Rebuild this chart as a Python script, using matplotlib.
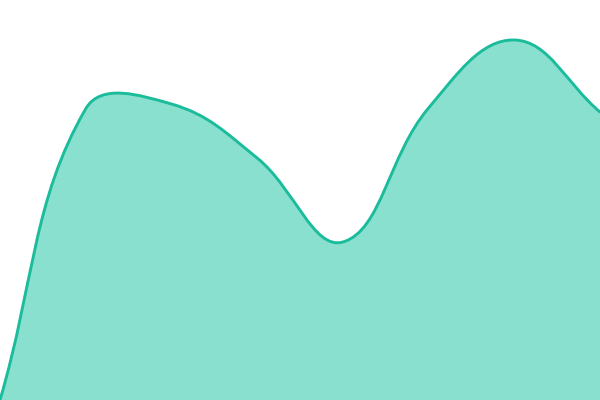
import numpy as np
import matplotlib
matplotlib.use("Agg")
import matplotlib.pyplot as plt
from matplotlib.path import Path
from matplotlib.patches import PathPatch

# data
labels = ["1", "2", "3", "4", "5", "6", "7", "8"]
values = [0, 72.8, 74, 60.5, 39.5, 73, 90, 72]

line_color = "#1abc9c"
fill_color = "#8ae0cf"
tension = 0.4


def spline_controls(pts, t):
    # chart.js style bezier control points, computed in pixel space
    n = len(pts)
    cps = []
    for i in range(n):
        prev = pts[max(i - 1, 0)]
        cur = pts[i]
        nxt = pts[min(i + 1, n - 1)]
        d01 = np.hypot(*(cur - prev))
        d12 = np.hypot(*(nxt - cur))
        tot = d01 + d12
        s01 = d01 / tot if tot else 0
        s12 = d12 / tot if tot else 0
        before = cur - t * s01 * (nxt - prev)
        after = cur + t * s12 * (nxt - prev)
        cps.append((before, after))
    return cps


fig = plt.figure(figsize=(6, 4), dpi=100)
ax = fig.add_axes([0, 0, 1, 1])
ax.set_xlim(0, len(values) - 1)
ax.set_ylim(0, 100)
ax.axis("off")

x = np.arange(len(values))
disp = ax.transData.transform(np.column_stack([x, values]))
cps = spline_controls(disp, tension)

verts = [disp[0]]
codes = [Path.MOVETO]
for i in range(len(disp) - 1):
    verts += [cps[i][1], cps[i + 1][0], disp[i + 1]]
    codes += [Path.CURVE4] * 3
verts = ax.transData.inverted().transform(np.array(verts))

line_path = Path(verts, codes)
fill_verts = np.vstack([verts, [[x[-1], 0], [x[0], 0], verts[0]]])
fill_codes = codes + [Path.LINETO, Path.LINETO, Path.CLOSEPOLY]
fill_path = Path(fill_verts, fill_codes)

ax.add_patch(PathPatch(fill_path, facecolor=fill_color, edgecolor="none"))
ax.add_patch(PathPatch(line_path, facecolor="none", edgecolor=line_color,
                       lw=2.1, capstyle="round", joinstyle="round"))

fig.savefig("out.png", dpi=100)
